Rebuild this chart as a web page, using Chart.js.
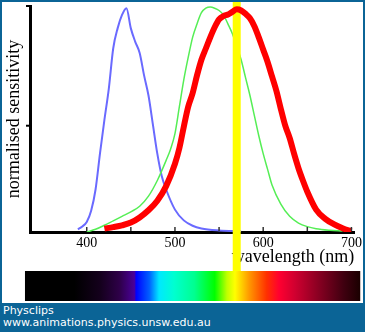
<!DOCTYPE html>
<html>
<head>
<meta charset="utf-8">
<script src="https://cdn.jsdelivr.net/npm/chart.js@4.4.1/dist/chart.umd.min.js"></script>
<style>
  html, body { margin: 0; padding: 0; background: #fff; }
  #wrap { position: relative; width: 365px; height: 332px; overflow: hidden; background: #fff; }
  #chart1 { position: absolute; left: 0; top: 0; }
  #footer {
    position: absolute; left: 0; top: 303px; width: 365px; height: 29px;
    box-sizing: border-box; padding: 2px 0 0 3px;
    background: #0b6496; color: #fff;
    font: 11px/12px "DejaVu Sans", sans-serif;
  }
  #frame { position: absolute; left: 0; top: 0; right: 0; bottom: 0; border: 2px solid #0b6496; pointer-events: none; }
</style>
</head>
<body>
<div id="wrap">
  <canvas id="chart1" width="365" height="303"></canvas>
  <div id="footer">Physclips<br>www.animations.physics.unsw.edu.au</div>
  <div id="frame"></div>
</div>
<script>
// S cone (blue)
const blueWave = [390, 395, 400, 405, 410, 415, 420, 425, 430, 435, 440, 445, 450, 455, 460, 465, 470, 475, 480, 485, 490, 500, 510, 520, 530, 550, 575];
const blueVal  = [0.012, 0.025, 0.045, 0.095, 0.19, 0.35, 0.50, 0.64, 0.82, 0.91, 0.97, 1.0, 0.91, 0.85, 0.80, 0.70, 0.61, 0.48, 0.35, 0.25, 0.19, 0.10, 0.052, 0.028, 0.016, 0.007, 0.003];

// M cone (green)
const greenWave = [400, 410, 420, 430, 440, 450, 460, 470, 480, 490, 495, 500, 505, 510, 515, 520, 525, 530, 535, 540, 545, 550, 555, 560, 565, 570, 575, 580, 585, 590, 595, 600, 605, 610, 620, 630, 640, 650, 660, 675, 690];
const greenVal  = [0.0, 0.012, 0.03, 0.05, 0.07, 0.09, 0.115, 0.16, 0.23, 0.32, 0.37, 0.44, 0.56, 0.68, 0.78, 0.87, 0.93, 0.98, 1.0, 1.005, 1.0, 0.99, 0.97, 0.93, 0.887, 0.83, 0.77, 0.69, 0.61, 0.52, 0.43, 0.35, 0.28, 0.21, 0.125, 0.07, 0.04, 0.024, 0.015, 0.008, 0.004];

// L cone (red)
const redWave = [420, 430, 440, 450, 460, 470, 480, 490, 500, 505, 510, 515, 520, 525, 530, 535, 540, 545, 550, 555, 560, 565, 570, 575, 580, 585, 590, 595, 600, 605, 610, 615, 620, 625, 630, 635, 640, 645, 650, 660, 670, 680, 690, 700];
const redVal  = [0.015, 0.022, 0.03, 0.042, 0.065, 0.097, 0.14, 0.205, 0.305, 0.375, 0.47, 0.56, 0.62, 0.70, 0.77, 0.82, 0.87, 0.915, 0.95, 0.965, 0.972, 0.984, 0.995, 0.99, 0.975, 0.955, 0.92, 0.87, 0.815, 0.76, 0.695, 0.63, 0.55, 0.475, 0.42, 0.35, 0.285, 0.23, 0.18, 0.10, 0.06, 0.035, 0.017, 0.003];

// marked wavelength (yellow bar)
const markWave = [570];

const xMin = 335.7, xMax = 703.3;
const xTicks = [400, 450, 500, 550, 600, 650, 700];
const xTickLabels = ['400', '', '500', '', '600', '', '700'];
const yTicks = [0.475, 1.01];

// spectrum strip under the chart
const spectrumWave  = [330, 386, 415, 437, 454, 456, 471, 482, 499, 522, 545, 559, 568, 584, 604, 618, 636, 666, 691, 710];
const spectrumColor = ['#000000', '#000000', '#14001c', '#2e0048', '#4a009a', '#0000ff', '#0060ff', '#00e8ff', '#00ffd0', '#00ff90', '#00ff00', '#c0ff00', '#ffff00', '#ff9900', '#ff3000', '#ff0030', '#d00030', '#800020', '#400010', '#1a0000'];

const toPoints = (w, v) => w.map((x, i) => ({ x: x, y: v[i] }));

const extras = {
  id: 'extras',
  afterDatasetDraw(chart, args) {
    // yellow bar goes over the green curve, under the red one
    if (args.index !== 1) return;
    const c = chart.ctx;
    const x = chart.scales.x;
    c.save();
    c.fillStyle = '#ffff00';
    markWave.forEach(w => {
      const px = x.getPixelForValue(w);
      c.fillRect(px - 4, 0, 8, 271);
    });
    c.restore();
  },
  afterDraw(chart) {
    const c = chart.ctx;
    const { x, y } = chart.scales;
    const a = chart.chartArea;
    c.save();

    const x0 = x.getPixelForValue(spectrumWave[0]);
    const x1 = x.getPixelForValue(spectrumWave[spectrumWave.length - 1]);
    const g = c.createLinearGradient(x0, 0, x1, 0);
    spectrumWave.forEach((w, i) => {
      g.addColorStop((x.getPixelForValue(w) - x0) / (x1 - x0), spectrumColor[i]);
    });
    c.fillStyle = g;
    c.fillRect(x0, 271, x1 - x0, 30);

    c.strokeStyle = '#333';
    c.lineWidth = 1.5;
    xTicks.forEach(v => {
      const px = x.getPixelForValue(v);
      c.beginPath();
      c.moveTo(px, a.bottom - 1);
      c.lineTo(px, a.bottom - 5);
      c.stroke();
    });

    c.strokeStyle = '#000';
    c.lineWidth = 2;
    yTicks.forEach(v => {
      const py = y.getPixelForValue(v);
      c.beginPath();
      c.moveTo(a.left - 4, py);
      c.lineTo(a.left, py);
      c.stroke();
    });
    c.restore();
  }
};

const ctx = document.getElementById('chart1').getContext('2d');
new Chart(ctx, {
  type: 'line',
  data: {
    datasets: [
      { label: 'L', data: toPoints(redWave, redVal), borderColor: '#ff0000', borderWidth: 6, pointRadius: 0, cubicInterpolationMode: 'monotone', fill: false },
      { label: 'M', data: toPoints(greenWave, greenVal), borderColor: '#55ee55', borderWidth: 1.5, pointRadius: 0, cubicInterpolationMode: 'monotone', fill: false },
      { label: 'S', data: toPoints(blueWave, blueVal), borderColor: '#6a6aff', borderWidth: 2, pointRadius: 0, cubicInterpolationMode: 'monotone', fill: false }
    ]
  },
  options: {
    responsive: false,
    animation: false,
    devicePixelRatio: 1,
    layout: { padding: { top: 6, right: 9, bottom: 0, left: 0 } },
    plugins: { legend: { display: false }, tooltip: { enabled: false } },
    scales: {
      x: {
        type: 'linear',
        min: xMin,
        max: xMax,
        afterBuildTicks: s => { s.ticks = xTicks.map(v => ({ value: v })); },
        afterFit: s => { s.height = 71; },
        grid: { display: false, drawTicks: false },
        border: { display: true, color: '#000', width: 3 },
        ticks: {
          autoSkip: false, maxRotation: 0, padding: 3, color: '#000',
          font: { family: 'Liberation Serif', size: 14 },
          callback: (v, i) => xTickLabels[i]
        },
        title: {
          display: true, text: 'wavelength (nm)', align: 'end', color: '#000',
          font: { family: 'Liberation Serif', size: 18 },
          padding: { top: 0, bottom: 35 }
        }
      },
      y: {
        type: 'linear',
        min: 0,
        max: 1.01,
        afterBuildTicks: s => { s.ticks = yTicks.map(v => ({ value: v })); },
        afterFit: s => { s.width = 30; },
        grid: { display: false, drawTicks: false },
        border: { display: true, color: '#000', width: 3 },
        ticks: { display: false },
        title: {
          display: true, text: 'normalised sensitivity', color: '#000',
          font: { family: 'Liberation Serif', size: 18 },
          padding: { top: 3, bottom: 0 }
        }
      }
    }
  },
  plugins: [extras]
});
</script>
</body>
</html>
